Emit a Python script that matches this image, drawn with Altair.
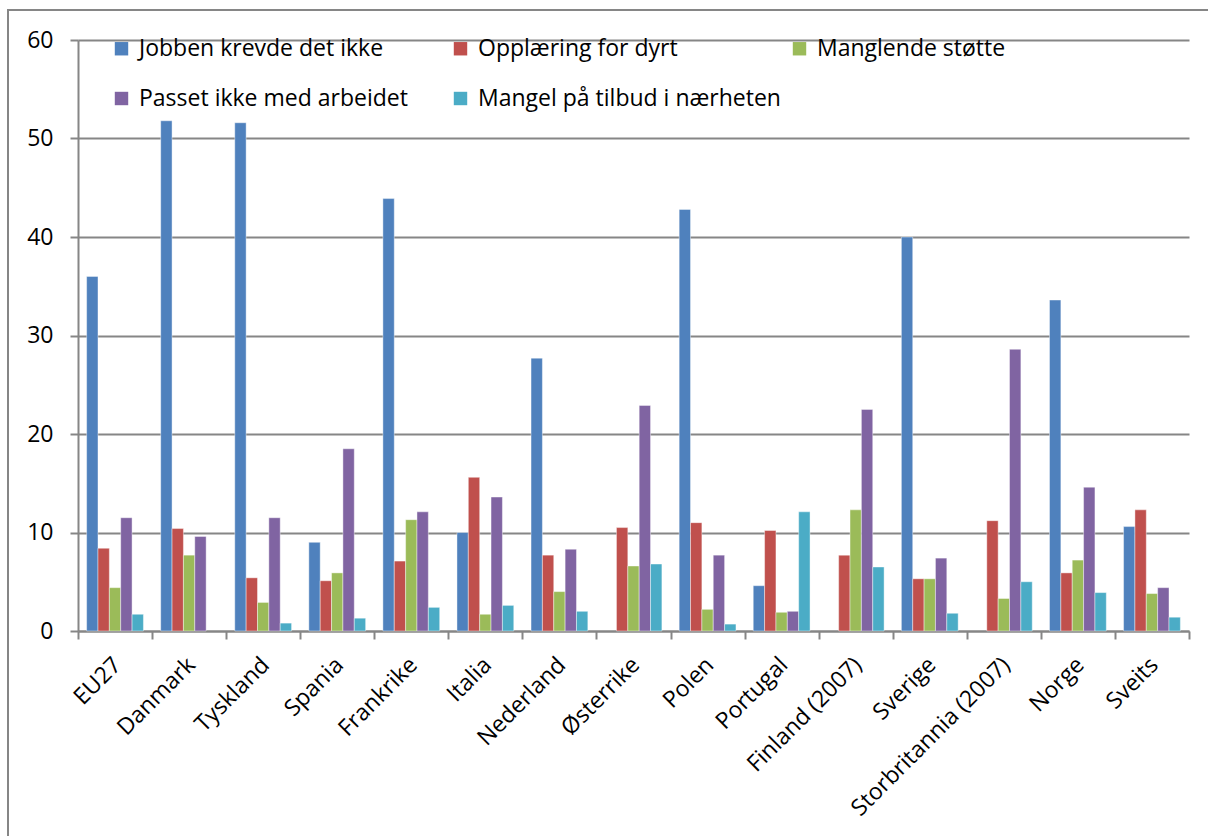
import altair as alt
import pandas as pd

# Countries along the x axis
countries = ["EU27", "Danmark", "Tyskland", "Spania", "Frankrike", "Italia",
             "Nederland", "Østerrike", "Polen", "Portugal", "Finland (2007)",
             "Sverige", "Storbritannia (2007)", "Norge", "Sveits"]

# Reasons (series) and their colours
series = ["Jobben krevde det ikke", "Opplæring for dyrt", "Manglende støtte",
          "Passet ikke med arbeidet", "Mangel på tilbud i nærheten"]
colors = ["#4F81BD", "#C0504D", "#9BBB59", "#8064A2", "#4BACC6"]

# Values per reason, one per country (None = no bar)
jobben = [36.0, 51.8, 51.6, 9.0, 43.9, 10.0, 27.7, None, 42.8, 4.6, None, 40.0, None, 33.6, 10.6]
opplaering = [8.4, 10.4, 5.4, 5.1, 7.1, 15.6, 7.7, 10.5, 11.0, 10.2, 7.7, 5.3, 11.2, 5.9, 12.3]
manglende = [4.4, 7.7, 2.9, 5.9, 11.3, 1.7, 4.0, 6.6, 2.2, 1.9, 12.3, 5.3, 3.3, 7.2, 3.8]
passet = [11.5, 9.6, 11.5, 18.5, 12.1, 13.6, 8.3, 22.9, 7.7, 2.0, 22.5, 7.4, 28.6, 14.6, 4.4]
mangel = [1.7, None, 0.8, 1.3, 2.4, 2.6, 2.0, 6.8, 0.7, 12.1, 6.5, 1.8, 5.0, 3.9, 1.4]

y_ticks = [0, 10, 20, 30, 40, 50, 60]

rows = []
for name, vals in zip(series, [jobben, opplaering, manglende, passet, mangel]):
    for land, v in zip(countries, vals):
        if v is not None:
            rows.append({"land": land, "serie": name, "verdi": v})
df = pd.DataFrame(rows)

# The legend grid is filled column by column (2 rows), so order the
# colour domain so that the rows read in series order.
n_rows = 2
n_cols = 3
legend_order = []
for c in range(n_cols):
    for r in range(n_rows):
        i = r * n_cols + c
        if i < len(series):
            legend_order.append(series[i])
legend_colors = [colors[series.index(s)] for s in legend_order]

FONT = "Open Sans"
FS = 23
GRAY = "#868686"

bars = alt.Chart(df).mark_bar(stroke="white", strokeWidth=0.6, strokeOpacity=0.7).encode(
    x=alt.X("land:N", sort=countries,
            scale=alt.Scale(paddingInner=0, paddingOuter=0),
            axis=alt.Axis(title=None, grid=False, tickBand="extent",
                          domainColor=GRAY, domainWidth=2,
                          tickColor=GRAY, tickWidth=2, tickSize=8,
                          labelAngle=315, labelAlign="right", labelBaseline="middle",
                          labelPadding=22, labelOffset=2, labelFont=FONT, labelFontSize=FS,
                          labelColor="black", labelLimit=400)),
    xOffset=alt.XOffset("serie:N", sort=series,
                        scale=alt.Scale(paddingInner=0, paddingOuter=0.76)),
    y=alt.Y("verdi:Q", scale=alt.Scale(domain=[0, 60], nice=False),
            axis=alt.Axis(title=None, values=y_ticks, grid=True,
                          gridColor=GRAY, gridWidth=2,
                          domainColor=GRAY, domainWidth=2,
                          tickColor=GRAY, tickWidth=2, tickSize=8,
                          labelPadding=17, labelFont=FONT, labelFontSize=FS,
                          labelColor="black")),
    color=alt.Color("serie:N",
                    scale=alt.Scale(domain=legend_order, range=legend_colors),
                    legend=alt.Legend(title=None, orient="none", legendX=32, legendY=-3,
                                      columns=n_cols, gridAlign="all", columnPadding=7,
                                      rowPadding=26, padding=0,
                                      symbolType="square", symbolSize=180,
                                      symbolStrokeWidth=0, labelOffset=6,
                                      labelFont=FONT, labelFontSize=FS,
                                      labelColor="black", labelLimit=400)),
)

# Outer frame around the whole chart
frame = alt.Chart(pd.DataFrame({"k": [0]})).mark_rect(
    fillOpacity=0, stroke=GRAY, strokeWidth=2
).encode(
    x=alt.value(-70), x2=alt.value(1200),
    y=alt.value(-30), y2=alt.value(900),
)

chart = alt.layer(frame, bars).properties(
    width=1111, height=591,
    autosize=alt.AutoSizeParams(type="none"),
    padding={"left": 78, "top": 40, "right": 19, "bottom": 205},
    background="white",
).configure_view(stroke=None)

chart.save("out.html", embed_options={"renderer": "svg", "actions": False})
